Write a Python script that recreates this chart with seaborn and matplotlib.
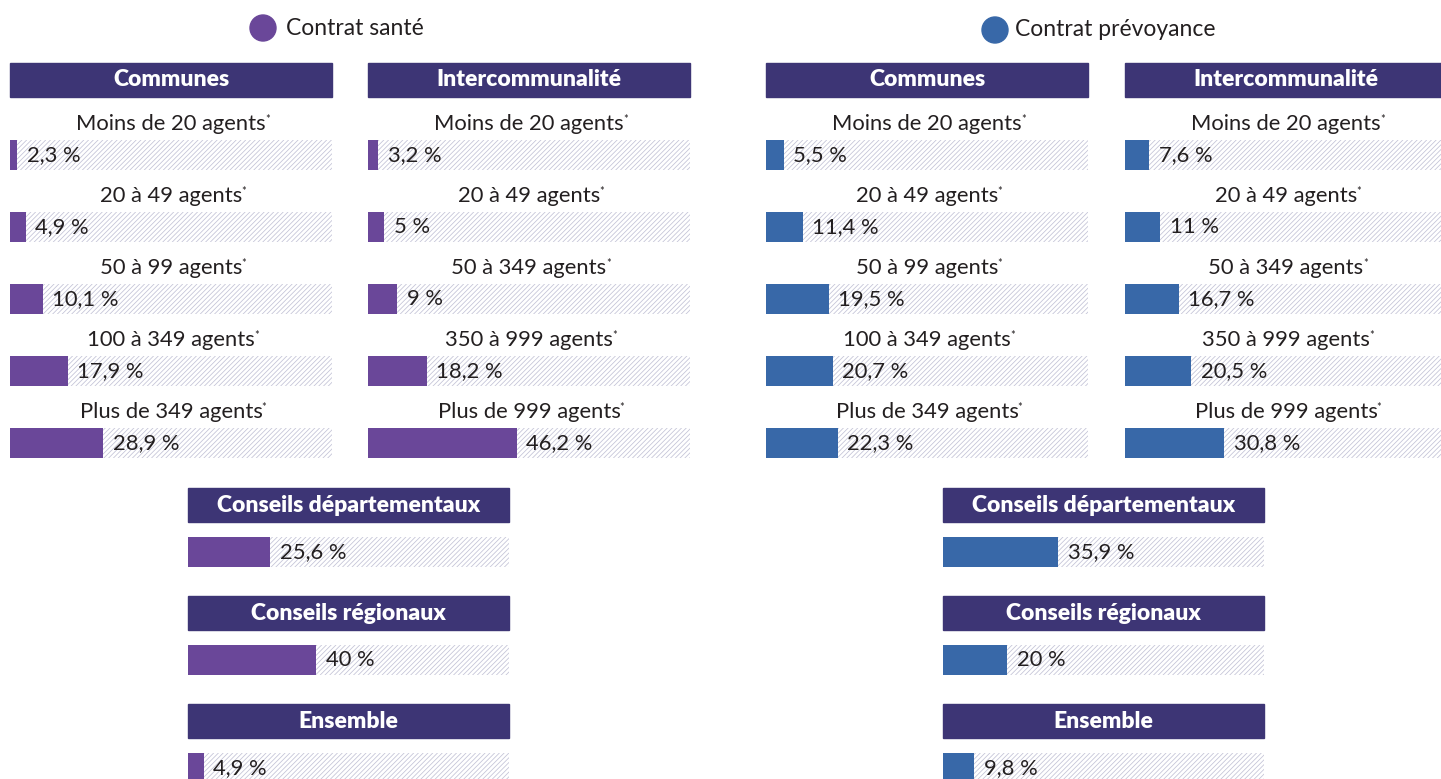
import matplotlib
matplotlib.use("Agg")
import matplotlib.pyplot as plt
from matplotlib.patches import Rectangle, Circle
import pandas as pd
import seaborn as sns

# --- Data (taux de couverture, %) ---
tranches_communes = ["Moins de 20 agents", "20 à 49 agents", "50 à 99 agents",
                     "100 à 349 agents", "Plus de 349 agents"]
tranches_interco = ["Moins de 20 agents", "20 à 49 agents", "50 à 349 agents",
                    "350 à 999 agents", "Plus de 999 agents"]
autres_collectivites = ["Conseils départementaux", "Conseils régionaux", "Ensemble"]

sante_communes = [2.3, 4.9, 10.1, 17.9, 28.9]
sante_interco = [3.2, 5, 9, 18.2, 46.2]
sante_autres = [25.6, 40, 4.9]

prevoyance_communes = [5.5, 11.4, 19.5, 20.7, 22.3]
prevoyance_interco = [7.6, 11, 16.7, 20.5, 30.8]
prevoyance_autres = [35.9, 20, 9.8]

# --- Style ---
HEADER = "#3d3575"
SANTE = "#6a4799"
PREVOYANCE = "#3868a8"
HATCH = "#c2c2d6"
TXT = "#231f20"
FS = 15.8

sns.set_theme(style="white")
plt.rcParams['font.family'] = ['Lato', 'DejaVu Sans']
plt.rcParams['hatch.linewidth'] = 0.55

W, H = 1441, 779
fig = plt.figure(figsize=(W / 100, H / 100), dpi=100)


def add_axes_px(left, top, width, bottom):
    return fig.add_axes([left / W, 1 - bottom / H, width / W, (bottom - top) / H])


def fmt(v):
    if float(v).is_integer():
        return f"{int(v)} %"
    return f"{v:.1f} %".replace(".", ",")


def draw_bars(ax, labels, values, color, height):
    df = pd.DataFrame({"categorie": labels, "taux": values})
    sns.barplot(data=df, x="taux", y="categorie", orient="h", color=color,
                saturation=1, width=height, linewidth=0, ax=ax)
    # hatched track = 100 %
    ax.barh(range(len(labels)), [100] * len(labels), height=height,
            color="white", edgecolor=HATCH, hatch="///////", linewidth=0, zorder=0)
    for i, v in enumerate(values):
        ax.text(v + 3, i, fmt(v), ha="left", va="center", fontsize=FS, color=TXT)
    ax.set_xlim(0, 100)
    ax.set_axis_off()


def panel_tranches(left, title, labels, values, color):
    # one row every 72 px, first bar centred at y=155 px
    ax = add_axes_px(left, 155 - 1.3 * 72, 322, 155 + 4.3 * 72)
    draw_bars(ax, labels, values, color, 0.42)
    ax.set_ylim(4.3, -1.3)
    ax.add_patch(Rectangle((0, -1.278), 100, 0.472, color=HEADER, clip_on=False))
    ax.text(50, -1.042, title, ha="center", va="center", fontsize=16.5,
            fontweight="heavy", color="white")
    for i, lab in enumerate(labels):
        t = ax.text(50, i - 0.43, lab, ha="center", va="center", fontsize=FS, color=TXT)
        ax.annotate("*", xy=(1, 0.98), xycoords=t, xytext=(-0.5, 0),
                    textcoords="offset points", fontsize=8, ha="left", va="top",
                    color=TXT)


def panel_autres(left, labels, values, color):
    # one row every 108 px, first bar centred at y=552 px
    ax = add_axes_px(left, 552 - 0.6 * 108, 321, 552 + 2.3 * 108)
    draw_bars(ax, labels, values, color, 0.278)
    ax.set_ylim(2.3, -0.6)
    for i, lab in enumerate(labels):
        ax.add_patch(Rectangle((0, i - 0.593), 100, 0.315, color=HEADER, clip_on=False))
        ax.text(50, i - 0.435, lab, ha="center", va="center", fontsize=16.5,
                fontweight="heavy", color="white")


# legend markers
ax0 = fig.add_axes([0, 0, 1, 1], zorder=-1)
ax0.set_xlim(0, W)
ax0.set_ylim(H, 0)
ax0.set_axis_off()
ax0.add_patch(Circle((263, 28), 13, color=SANTE))
ax0.text(286, 28, "Contrat santé", ha="left", va="center", fontsize=16.5, color=TXT)
ax0.add_patch(Circle((995, 30), 13, color=PREVOYANCE))
ax0.text(1015, 29, "Contrat prévoyance", ha="left", va="center", fontsize=16.5, color=TXT)

panel_tranches(10, "Communes", tranches_communes, sante_communes, SANTE)
panel_tranches(368, "Intercommunalité", tranches_interco, sante_interco, SANTE)
panel_tranches(766, "Communes", tranches_communes, prevoyance_communes, PREVOYANCE)
panel_tranches(1125, "Intercommunalité", tranches_interco, prevoyance_interco, PREVOYANCE)

panel_autres(188, autres_collectivites, sante_autres, SANTE)
panel_autres(943, autres_collectivites, prevoyance_autres, PREVOYANCE)

fig.savefig("out.png", dpi=100)
